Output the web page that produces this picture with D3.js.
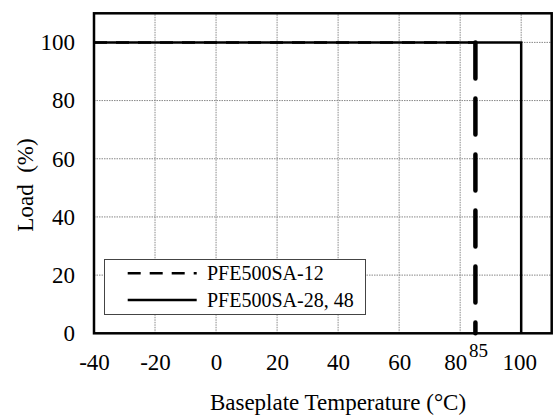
<!DOCTYPE html>
<html><head><meta charset="utf-8">
<script src="https://cdn.jsdelivr.net/npm/d3@7"></script>
</head><body style="margin:0;background:#fff">
<svg id="c" width="557" height="415" style="display:block"></svg>
<script>
const xTicks = [-40, -20, 0, 20, 40, 60, 80, 100];
const yTicks = [0, 20, 40, 60, 80, 100];
const seriesNames = ["PFE500SA-12", "PFE500SA-28, 48"];
const s12Temp = [-40, 85, 85];
const s12Load = [100, 100, 0];
const s2848Temp = [-40, 100, 100];
const s2848Load = [100, 100, 0];
const markTemp = 85;

const FONT = '"Liberation Serif"';
const svg = d3.select("#c");
const x = d3.scaleLinear().domain([-40, 110]).range([94, 551.7]);
const y = d3.scaleLinear().domain([0, 110]).range([333.3, 13.3]);
function sty(sel, size) { return sel.style("font-family", FONT).style("font-size", size + "px").style("fill", "#000"); }

const gx = svg.append("g");
gx.selectAll("line.v").data(xTicks.filter(d => d > -40)).join("line")
  .attr("x1", d => x(d)).attr("x2", d => x(d)).attr("y1", y(0)).attr("y2", y(110))
  .attr("stroke", "#888").attr("stroke-width", 1).attr("stroke-dasharray", "1.5,1");
gx.selectAll("line.h").data(yTicks.filter(d => d > 0)).join("line")
  .attr("x1", x(-40)).attr("x2", x(110)).attr("y1", d => y(d)).attr("y2", d => y(d))
  .attr("stroke", "#888").attr("stroke-width", 1).attr("stroke-dasharray", "1.5,1");

const lg = svg.append("g");
lg.append("rect").attr("x", 104.5).attr("y", 259.5).attr("width", 261).attr("height", 55)
  .attr("fill", "#fff").attr("stroke", "#444").attr("stroke-width", 1);

const line = d3.line().x(d => x(d[0])).y(d => y(d[1]));
const d12 = s12Temp.map((t, i) => [t, s12Load[i]]);
const d2848 = s2848Temp.map((t, i) => [t, s2848Load[i]]);

svg.append("path").attr("d", line(d12.slice(0, 2))).attr("fill", "none")
  .attr("stroke", "#000").attr("stroke-width", 2.5).attr("stroke-dasharray", "13,9");
svg.append("path").attr("d", line(d12.slice(1))).attr("fill", "none")
  .attr("stroke", "#000").attr("stroke-width", 4.5).attr("stroke-dasharray", "36,20")
  .attr("stroke-linecap", "round");
svg.append("path").attr("d", line(d2848)).attr("fill", "none")
  .attr("stroke", "#000").attr("stroke-width", 2.5);

svg.append("rect").attr("x", x(-40)).attr("y", y(110)).attr("width", x(110) - x(-40))
  .attr("height", y(0) - y(110)).attr("fill", "none").attr("stroke", "#000").attr("stroke-width", 2.5);

const fmt = d => String(d);
const xa = svg.append("g").attr("transform", `translate(0,${y(0)})`)
  .call(d3.axisBottom(x).tickValues(xTicks).tickSize(0).tickPadding(20.5).tickFormat(fmt));
xa.select(".domain").remove();
sty(xa.selectAll("text"), 23);
xa.selectAll(".tick").filter(d => d === 80).select("text").attr("dx", -5);
xa.selectAll(".tick").filter(d => d === 100).select("text").attr("dx", -2);

const ya = svg.append("g").attr("transform", `translate(${x(-40)},0)`)
  .call(d3.axisLeft(y).tickValues(yTicks).tickSize(0).tickPadding(19).tickFormat(fmt));
ya.select(".domain").remove();
sty(ya.selectAll("text"), 23);

sty(svg.append("text").attr("x", x(markTemp) + 3).attr("y", 357).attr("text-anchor", "middle"), 19)
  .text(String(markTemp));

sty(svg.append("text").attr("x", 338).attr("y", 410).attr("text-anchor", "middle"), 23)
  .text("Baseplate Temperature (°C)");
sty(svg.append("text").attr("transform", "translate(33,185) rotate(-90)").attr("text-anchor", "middle"), 23)
  .style("white-space", "pre").text("Load  (%)");

const rows = [{name: seriesNames[0], dash: "13,9", yy: 273.3}, {name: seriesNames[1], dash: null, yy: 300}];
rows.forEach(r => {
  const l = lg.append("line").attr("x1", 127.7).attr("x2", 196.7).attr("y1", r.yy).attr("y2", r.yy)
    .attr("stroke", "#000").attr("stroke-width", 2.5);
  if (r.dash) l.attr("stroke-dasharray", r.dash);
  sty(lg.append("text").attr("x", 207).attr("y", r.yy + 6.5), 20).text(r.name);
});
</script>
</body></html>
